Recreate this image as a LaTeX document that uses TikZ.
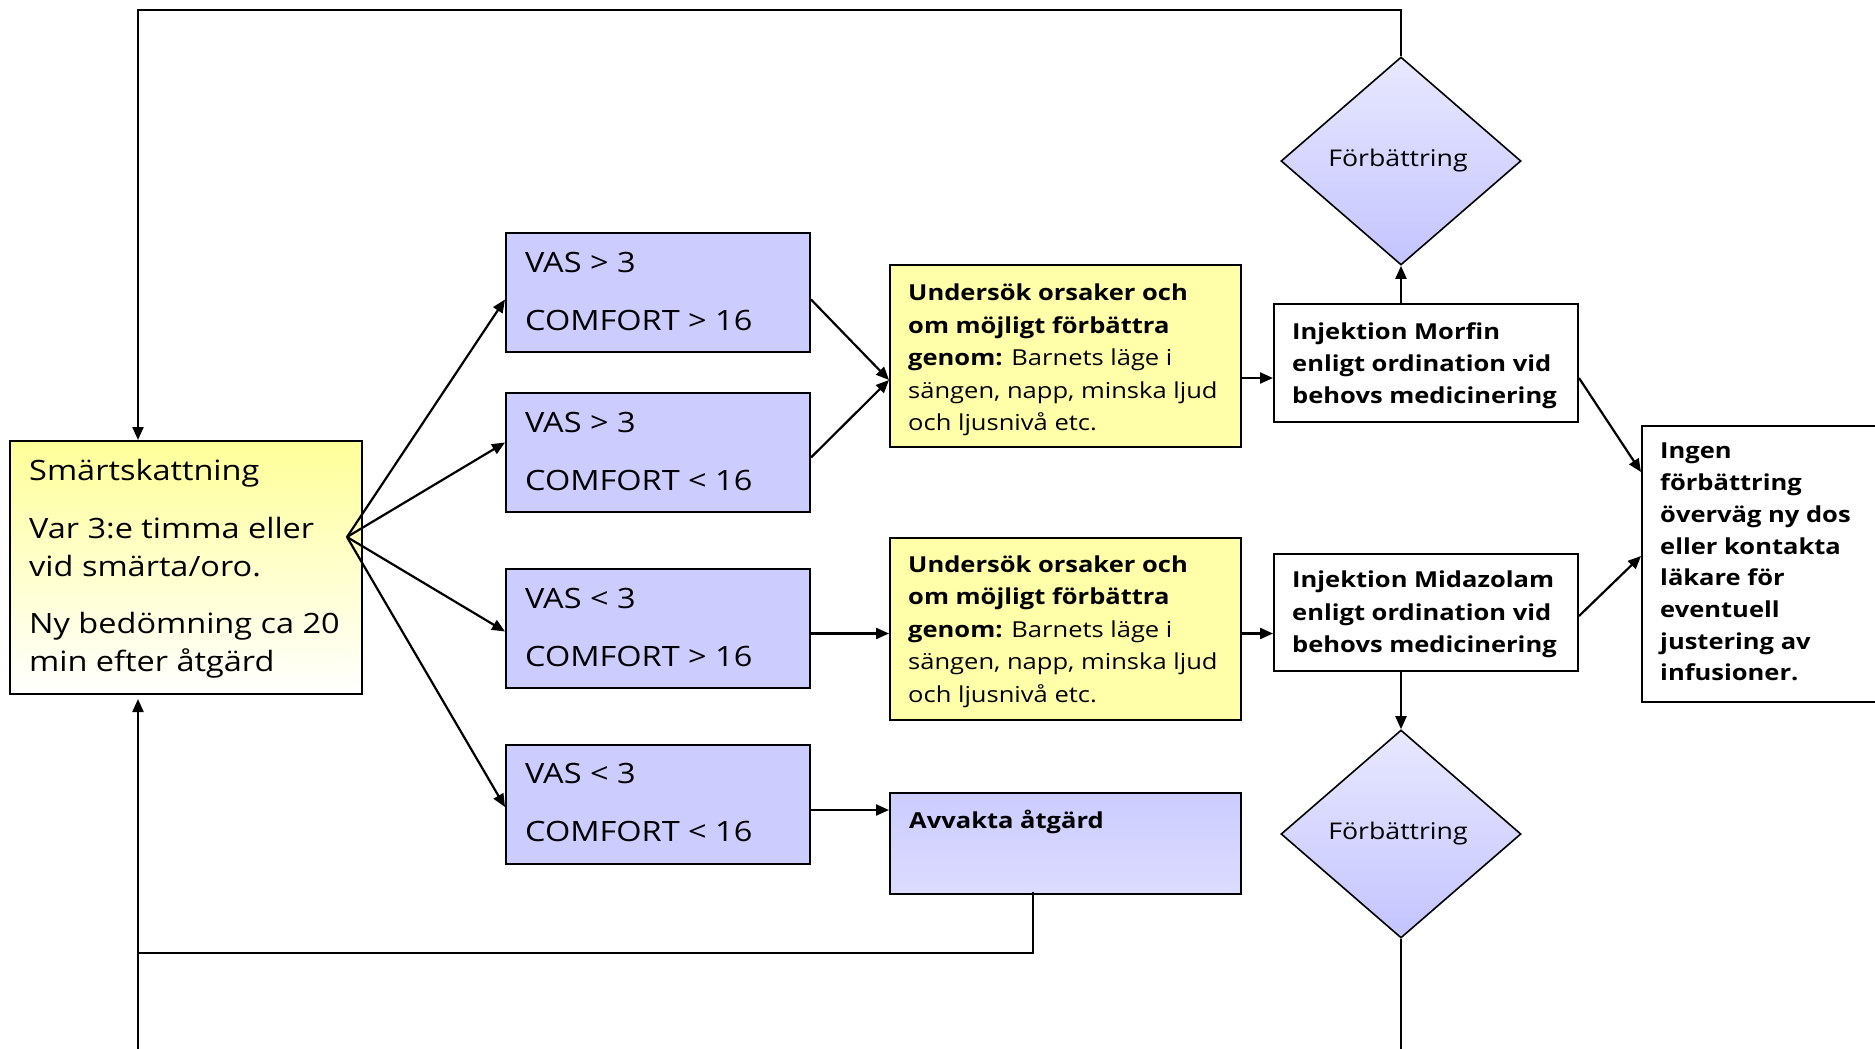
\documentclass[tikz,border=0pt]{standalone}
\usepackage{fontspec}
\setmainfont{Open Sans}[FakeStretch=1.16]
\usetikzlibrary{arrows.meta,shapes.geometric,calc}
\definecolor{lav}{HTML}{CCCCFF}
\definecolor{lavtop}{HTML}{E8E8FF}
\definecolor{lavbot}{HTML}{C4C4FF}
\definecolor{lavlight}{HTML}{DCDCFF}
\definecolor{yel}{HTML}{FFFFAA}
\definecolor{yeltop}{HTML}{FFFF99}
\tikzset{
  box/.style={draw=black, line width=2pt, rectangle, inner sep=0pt},
  vasbox/.style={box, fill=lav, minimum width=304pt, minimum height=119pt},
  yelbox/.style={box, fill=yel, minimum width=351pt, minimum height=182pt},
  whitebox/.style={box, fill=white},
  dia/.style={draw=black, line width=1.6pt, diamond, inner sep=0pt, top color=lavtop, bottom color=lavbot, minimum width=240pt, minimum height=208pt},
  txt/.style={anchor=north west, inner sep=0pt, align=left},
  bigtxt/.style={txt, font=\fontsize{28}{38}\selectfont},
  vastxt/.style={txt, font=\fontsize{28}{58}\selectfont},
  smalltxt/.style={txt, font=\fontsize{22}{32.4}\selectfont},
  diatxt/.style={font=\fontsize{23}{26}\selectfont, inner sep=0pt},
  arr/.style={line width=2.2pt, -{Triangle[length=13pt,width=11pt]}},
  ln/.style={line width=2.2pt},
}
\begin{document}
\begin{tikzpicture}[x=1pt,y=-1pt]
\useasboundingbox (0,0) rectangle (1875,1049);
% boxes
\node[box, top color=yeltop, bottom color=white, minimum width=352pt, minimum height=253pt] (smart) at (186,567.5) {};
\node[vasbox] (v1) at (658,292.5) {};
\node[vasbox] (v2) at (658,452.5) {};
\node[vasbox] (v3) at (658,628.5) {};
\node[vasbox] (v4) at (658,804) {};
\node[yelbox] (u1) at (1065.5,356) {};
\node[yelbox] (u2) at (1065.5,628.5) {};
\node[box, top color=lav, bottom color=lavlight, minimum width=351pt, minimum height=101pt] (avv) at (1065.5,843.5) {};
\node[whitebox, minimum width=304pt, minimum height=118pt] (mor) at (1426,363) {};
\node[whitebox, minimum width=304pt, minimum height=117pt] (mid) at (1426,612.5) {};
\node[whitebox, minimum width=243pt, minimum height=276pt] (ingen) at (1763.5,564) {};
\node[dia] (d1) at (1401,161) {};
\node[dia] (d2) at (1401,834) {};
% texts
\node[bigtxt] (smartt) at ($(smart.north west)+(20,19)$) {Smärtskattning\\[20pt]Var 3:e timma eller\\vid smärta/oro.\\[19pt]Ny bedömning ca 20\\min efter åtgärd};
\node[vastxt] (v1t) at ($(v1.north west)+(20,20)$) {VAS > 3\\COMFORT > 16};
\node[vastxt] (v2t) at ($(v2.north west)+(20,20)$) {VAS > 3\\COMFORT < 16};
\node[vastxt] (v3t) at ($(v3.north west)+(20,20)$) {VAS < 3\\COMFORT > 16};
\node[vastxt] (v4t) at ($(v4.north west)+(20,20)$) {VAS < 3\\COMFORT < 16};
\node[smalltxt] (u1t) at ($(u1.north west)+(19,20)$) {\textbf{Undersök orsaker och}\\\textbf{om möjligt förbättra}\\\textbf{genom:} Barnets läge i\\sängen, napp, minska ljud\\och ljusnivå etc.};
\node[smalltxt] (u2t) at ($(u2.north west)+(19,19)$) {\textbf{Undersök orsaker och}\\\textbf{om möjligt förbättra}\\\textbf{genom:} Barnets läge i\\sängen, napp, minska ljud\\och ljusnivå etc.};
\node[smalltxt, font=\fontsize{22}{32.4}\selectfont\bfseries] (avvt) at ($(avv.north west)+(20,18)$) {Avvakta åtgärd};
\node[smalltxt, font=\fontsize{22}{32.4}\selectfont\bfseries] (mort) at ($(mor.north west)+(19,19)$) {Injektion Morfin\\enligt ordination vid\\behovs medicinering};
\node[smalltxt, font=\fontsize{22}{32.4}\selectfont\bfseries] (midt) at ($(mid.north west)+(19,18)$) {Injektion Midazolam\\enligt ordination vid\\behovs medicinering};
\node[smalltxt, font=\fontsize{22}{31.7}\selectfont\bfseries] (ingent) at ($(ingen.north west)+(19,18)$) {Ingen\\förbättring\\överväg ny dos\\eller kontakta\\läkare för\\eventuell\\justering av\\infusioner.};
\node[diatxt] (d1t) at ($(d1.center)+(-3,0)$) {Förbättring};
\node[diatxt] (d2t) at ($(d2.center)+(-3,0)$) {Förbättring};
% connectors
\coordinate (fan) at (347,537);
\draw[arr] (fan) -- ($(v1.west)+(0,7)$);
\draw[arr] (fan) -- ($(v2.west)+(0,-10)$);
\draw[arr] (fan) -- ($(v3.west)+(0,3)$);
\draw[arr] (fan) -- ($(v4.west)+(0,3)$);
\coordinate (j1) at ($(u1.west)+(0,24)$);
\draw[arr] ($(v1.east)+(0,7)$) -- (j1);
\draw[arr] ($(v2.east)+(0,5)$) -- (j1);
\draw[arr] ($(v3.east)+(0,5)$) -- ($(u2.west)+(0,5)$);
\coordinate (a4) at ($(v4.east)+(0,6)$);
\draw[arr] (a4) -- (a4 -| avv.west);
\coordinate (a1) at ($(u1.east)+(0,22)$);
\draw[arr] (a1) -- (a1 -| mor.west);
\coordinate (a2) at ($(u2.east)+(0,5)$);
\draw[arr] (a2) -- (a2 -| mid.west);
\draw[arr] (d1.south |- mor.north) -- (d1.south);
\draw[arr] (d2.north |- mid.south) -- (d2.north);
\draw[arr] ($(mor.east)+(0,15)$) -- ($(ingen.west)+(0,-92)$);
\draw[arr] ($(mid.east)+(0,3.5)$) -- ($(ingen.west)+(0,-8)$);
\coordinate (tl) at (138,10);
\draw[arr] (d1.north) |- (tl) -- (tl |- smart.north);
\coordinate (bl) at (138,1052);
\draw[arr, shorten >=4pt] (bl) -- (bl |- smart.south);
\coordinate (ab) at (1033,953);
\draw[ln] ($(avv.south)+(-32.5,-3)$) |- (ab -| bl);
\draw[ln] (d2.south) -- (d2.south |- bl);
\end{tikzpicture}
\end{document}
